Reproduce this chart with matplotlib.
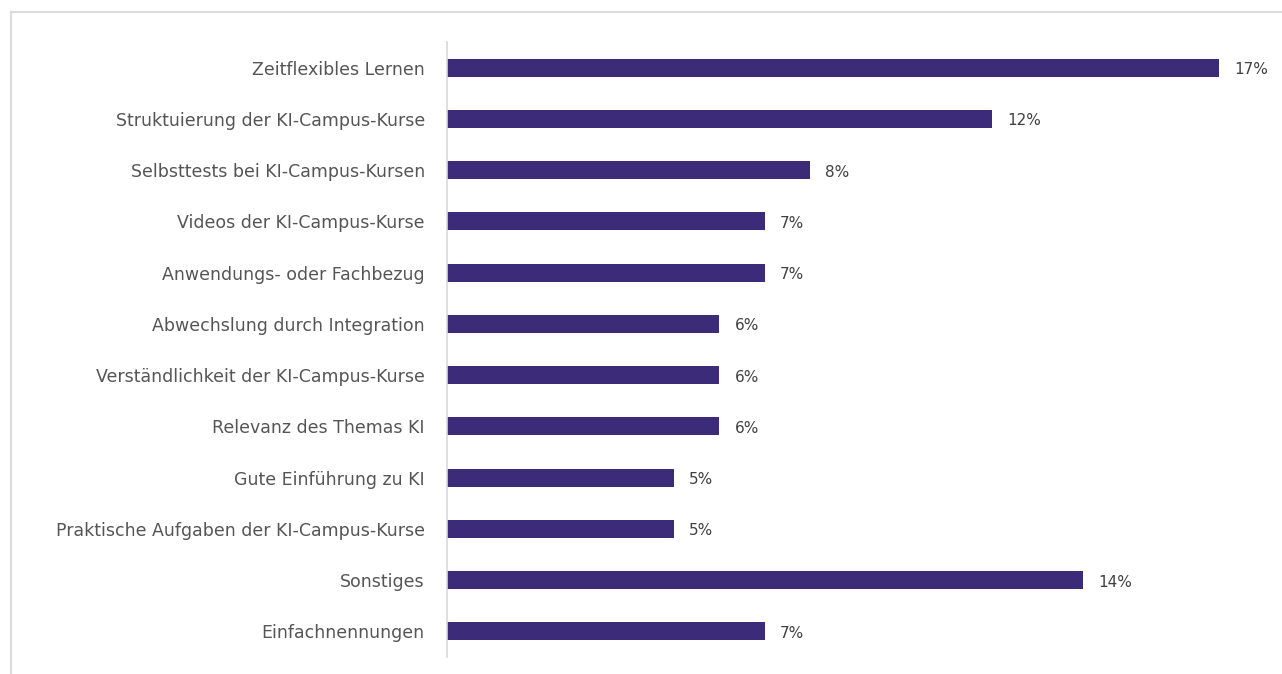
import matplotlib
matplotlib.use("Agg")
import matplotlib.pyplot as plt
from matplotlib.lines import Line2D

# Data
categories = [
    "Zeitflexibles Lernen",
    "Struktuierung der KI-Campus-Kurse",
    "Selbsttests bei KI-Campus-Kursen",
    "Videos der KI-Campus-Kurse",
    "Anwendungs- oder Fachbezug",
    "Abwechslung durch Integration",
    "Verständlichkeit der KI-Campus-Kurse",
    "Relevanz des Themas KI",
    "Gute Einführung zu KI",
    "Praktische Aufgaben der KI-Campus-Kurse",
    "Sonstiges",
    "Einfachnennungen",
]
values = [17, 12, 8, 7, 7, 6, 6, 6, 5, 5, 14, 7]

bar_color = "#3c2b78"
text_color = "#555555"

plt.rcParams["font.family"] = ["DejaVu Sans"]

W, H = 1282, 674
fig = plt.figure(figsize=(W / 100, H / 100), dpi=100)
ax = fig.add_axes([447 / W, 1 - 657 / H, (1270 - 447) / W, (657 - 42) / H])

y = list(range(len(categories)))
ax.barh(y, values, height=0.35, color=bar_color)
ax.set_ylim(len(categories) - 0.5, -0.5)
ax.set_xlim(0, 823 / 45.4)

ax.set_yticks(y)
ax.set_yticklabels(categories, fontsize=12.5, color=text_color)
ax.tick_params(axis="y", length=0, pad=16)
ax.set_xticks([])

for s in ["top", "right", "bottom"]:
    ax.spines[s].set_visible(False)
ax.spines["left"].set_color("#d9d9d9")
ax.spines["left"].set_linewidth(1.2)

for yi, v in zip(y, values):
    ax.annotate(f"{v}%", xy=(v, yi), xytext=(11, -1.5), textcoords="offset points",
                va="center", ha="left", fontsize=11, color="#404040")

# light frame at top and left
fig.add_artist(Line2D([11 / W, 1], [1 - 12 / H, 1 - 12 / H], transform=fig.transFigure,
                      color="#dcdcdc", lw=1.5))
fig.add_artist(Line2D([11 / W, 11 / W], [0, 1 - 12 / H], transform=fig.transFigure,
                      color="#dcdcdc", lw=1.5))

fig.savefig("out.png", dpi=100, facecolor="white")
